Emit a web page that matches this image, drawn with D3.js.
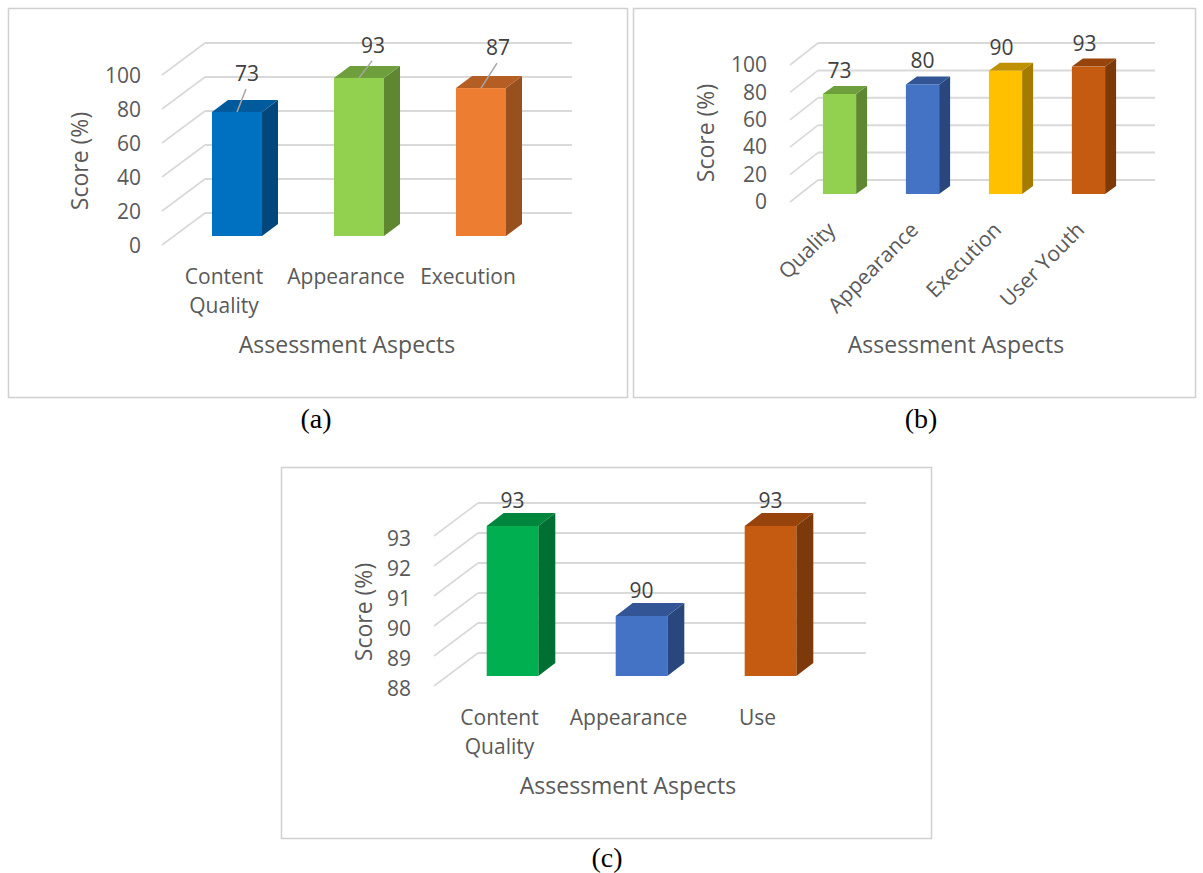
<!DOCTYPE html>
<html>
<head>
<meta charset="utf-8">
<script src="https://cdn.jsdelivr.net/npm/d3@7"></script>
<style>
  body { margin: 0; background: #fff; }
  text { font-family: "Open Sans", sans-serif; fill: #595959; }
  .caption { font-family: "Liberation Serif", serif; fill: #000; font-size: 28px; }
</style>
</head>
<body>
<div id="canvas"></div>
<script>
const categoriesA = ["Content Quality", "Appearance", "Execution"];
const valuesA = [73, 93, 87];
const ticksA = [0, 20, 40, 60, 80, 100];

const categoriesB = ["Quality", "Appearance", "Execution", "User Youth"];
const valuesB = [73, 80, 90, 93];
const ticksB = [0, 20, 40, 60, 80, 100];

const categoriesC = ["Content Quality", "Appearance", "Use"];
const valuesC = [93, 90, 93];
const ticksC = [88, 89, 90, 91, 92, 93];

// front, top, side
const blue1 = ["#0070c0", "#005a9c", "#00487c"];
const green1 = ["#92d050", "#6f9e3c", "#5f8630"];
const orange1 = ["#ed7d31", "#b55e24", "#98501f"];
const blue2 = ["#4472c4", "#335595", "#29477c"];
const yellow = ["#ffc000", "#bf9000", "#a37b00"];
const brown = ["#c55a11", "#96440c", "#7d390a"];
const green2 = ["#00b050", "#00863c", "#007032"];

const width = 1203;
const height = 873;

const svg = d3.select("#canvas").append("svg")
    .attr("width", width)
    .attr("height", height)
    .style("display", "block");

let draw = (cfg) => {
    // frame
    svg.append("rect")
        .attr("x", cfg.frame[0] + 0.5).attr("y", cfg.frame[1] + 0.5)
        .attr("width", cfg.frame[2]).attr("height", cfg.frame[3])
        .attr("fill", "#fff").attr("stroke", "#d0d0d0").attr("stroke-width", 1.5);

    // origin = front left corner of the floor
    const g = svg.append("g").attr("transform", `translate(${cfg.x0},${cfg.y0})`);

    const y = d3.scaleLinear().domain(cfg.domain).range([0, -cfg.plotH]);
    const x = d3.scaleBand()
        .domain(cfg.categories)
        .range(cfg.xRange)
        .paddingInner(cfg.padding)
        .paddingOuter(cfg.padding / 2);

    // walls
    g.selectAll("line.diag").data(cfg.ticks).enter().append("line")
        .attr("x1", 0).attr("y1", d => y(d))
        .attr("x2", cfg.wallDx).attr("y2", d => y(d) - cfg.wallDy)
        .attr("stroke", "#d9d9d9").attr("stroke-width", 1.6);
    g.selectAll("line.back").data(cfg.ticks).enter().append("line")
        .attr("x1", cfg.wallDx).attr("y1", d => y(d) - cfg.wallDy)
        .attr("x2", cfg.wallX1).attr("y2", d => y(d) - cfg.wallDy)
        .attr("stroke", "#d9d9d9").attr("stroke-width", 2);

    // bars
    const base = -cfg.barLift;
    const rows = cfg.categories.map((c, i) => ({ c: c, v: cfg.values[i], col: cfg.colors[i], lab: cfg.labelOff[i] }));
    const bw = x.bandwidth();
    const bars = g.selectAll("g.bar").data(rows).enter().append("g").attr("class", "bar");
    const top = d => base + y(d.v) - y(cfg.domain[0]);

    bars.append("path")
        .attr("fill", d => d.col[2])
        .attr("d", d => {
            const r = x(d.c) + bw;
            return `M${r},${base}L${r + cfg.dx},${base - cfg.dy}L${r + cfg.dx},${top(d) - cfg.dy}L${r},${top(d)}Z`;
        });
    bars.append("path")
        .attr("fill", d => d.col[1])
        .attr("d", d => {
            const l = x(d.c);
            return `M${l},${top(d)}L${l + cfg.dx},${top(d) - cfg.dy}L${l + bw + cfg.dx},${top(d) - cfg.dy}L${l + bw},${top(d)}Z`;
        });
    bars.append("rect")
        .attr("fill", d => d.col[0])
        .attr("x", d => x(d.c))
        .attr("y", d => top(d))
        .attr("width", bw)
        .attr("height", d => base - top(d));

    // leader lines
    if (cfg.leaders) {
        bars.append("line")
            .attr("x1", d => x(d.c) + bw / 2)
            .attr("y1", d => top(d))
            .attr("x2", d => x(d.c) + bw / 2 + d.lab[0] - 1)
            .attr("y2", d => top(d) + d.lab[1] + 16)
            .attr("stroke", "#a6a6a6").attr("stroke-width", 1.5);
    }

    // data labels
    bars.append("text")
        .attr("x", d => x(d.c) + bw / 2 + d.lab[0])
        .attr("y", d => top(d) + d.lab[1])
        .attr("text-anchor", "middle")
        .attr("dominant-baseline", "central")
        .style("font-size", cfg.labelSize + "px")
        .style("fill", "#404040")
        .text(d => d.v);

    // y axis
    const yAxis = g.append("g")
        .call(d3.axisLeft(y).tickValues(cfg.ticks).tickSize(0).tickPadding(cfg.yPad).tickFormat(d3.format("d")));
    yAxis.select(".domain").remove();
    yAxis.selectAll("text")
        .style("font-size", cfg.tickSize + "px")
        .attr("dy", cfg.yDy);
    yAxis.attr("font-family", null).attr("font-size", null);

    // x axis
    const xAxis = g.append("g")
        .attr("transform", `translate(${cfg.xLabelDx},${cfg.xLabelDy})`)
        .call(d3.axisBottom(x).tickSize(0).tickPadding(0));
    xAxis.select(".domain").remove();
    xAxis.attr("font-family", null).attr("font-size", null);
    xAxis.selectAll("text").style("font-size", cfg.tickSize + "px");
    if (cfg.rotate) {
        xAxis.selectAll("text")
            .attr("text-anchor", "end")
            .attr("y", 0).attr("dy", "0.35em")
            .attr("transform", `rotate(${cfg.rotate})`);
    } else {
        xAxis.selectAll("text").each(function (d) {
            const t = d3.select(this);
            const words = d.split(" ");
            if (words.length < 2) return;
            t.text(null);
            words.forEach((w, i) => {
                t.append("tspan").attr("x", 0).attr("dy", i ? "1.38em" : "0.71em").text(w);
            });
            t.attr("dy", null);
        });
    }

    // axis titles
    svg.append("text")
        .attr("transform", `translate(${cfg.yTitle[0]},${cfg.yTitle[1]}) rotate(-90)`)
        .attr("text-anchor", "middle")
        .style("font-size", cfg.titleSize + "px")
        .text("Score (%)");
    svg.append("text")
        .attr("x", cfg.xTitle[0]).attr("y", cfg.xTitle[1])
        .attr("text-anchor", "middle")
        .style("font-size", cfg.titleSize + "px")
        .text("Assessment Aspects");

    // caption
    svg.append("text")
        .attr("class", "caption")
        .attr("x", cfg.caption[1]).attr("y", cfg.caption[2])
        .attr("text-anchor", "middle")
        .text(cfg.caption[0]);
};

draw({
    frame: [8, 8, 619, 389], x0: 162, y0: 245,
    categories: categoriesA, values: valuesA, ticks: ticksA, domain: [0, 100],
    colors: [blue1, green1, orange1],
    plotH: 170, wallDx: 43, wallDy: 32, wallX1: 410,
    xRange: [14, 380], padding: 0.59, barLift: 9, dx: 16, dy: 12,
    labelOff: [[10, -39], [14, -33], [17, -41]], leaders: true, labelSize: 21,
    tickSize: 21, yPad: 21, yDy: "0.38em", xLabelDx: -13, xLabelDy: 24,
    yTitle: [88, 161], xTitle: [347, 353], titleSize: 23,
    caption: ["(a)", 316, 428]
});

draw({
    frame: [633, 8, 562, 389], x0: 790, y0: 202,
    categories: categoriesB, values: valuesB, ticks: ticksB, domain: [0, 100],
    colors: [green1, blue2, yellow, brown],
    plotH: 137, wallDx: 28, wallDy: 22, wallX1: 365,
    xRange: [8, 340], padding: 0.6, barLift: 8, dx: 11, dy: 8,
    labelOff: [[0, -24], [0, -24], [-4, -24], [-4, -24]], leaders: false, labelSize: 21,
    tickSize: 21, yPad: 23, yDy: "0.32em", xLabelDx: -8, xLabelDy: 24,
    rotate: -45,
    yTitle: [714, 133], xTitle: [956, 353], titleSize: 23,
    caption: ["(b)", 921, 428]
});

draw({
    frame: [281, 467, 650, 371], x0: 434, y0: 686,
    categories: categoriesC, values: valuesC, ticks: ticksC, domain: [88, 93],
    colors: [green2, blue2, brown],
    plotH: 150, wallDx: 44, wallDy: 33, wallX1: 432,
    xRange: [14, 401], padding: 0.6, barLift: 10, dx: 17, dy: 13,
    labelOff: [[0, -26], [0, -26], [0, -26]], leaders: false, labelSize: 21,
    tickSize: 21, yPad: 23, yDy: "0.44em", xLabelDx: -13, xLabelDy: 24,
    yTitle: [372, 612], xTitle: [628, 794], titleSize: 23,
    caption: ["(c)", 607, 867]
});
</script>
</body>
</html>
